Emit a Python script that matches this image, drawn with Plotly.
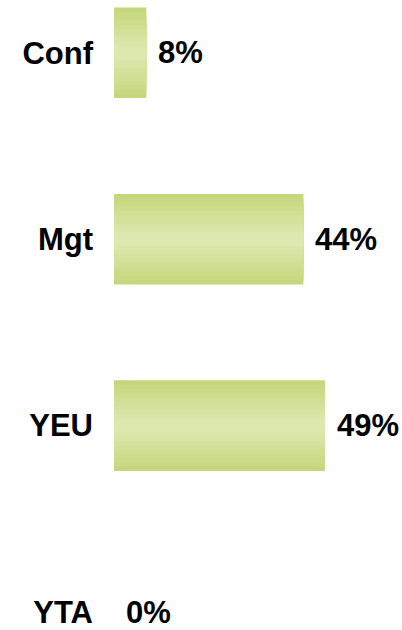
import plotly.graph_objects as go

categories = ["Conf", "Mgt", "YEU", "YTA"]
values = [7.5, 44, 49, 0]
value_labels = ["8%", "44%", "49%", "0%"]

FONT = "Liberation Sans, Arial, sans-serif"

# gradient layers (outer dark -> inner light)
edge = (0xC4, 0xD7, 0x7C)
center = (0xDD, 0xE8, 0xAF)
n_layers = 10
full_w = 0.486

fig = go.Figure()
for i in range(n_layers):
    t = i / (n_layers - 1)
    c = tuple(round(edge[k] + (center[k] - edge[k]) * t) for k in range(3))
    w = full_w * (1 - 0.85 * t)
    fig.add_trace(go.Bar(
        x=values, y=categories, orientation="h",
        width=w,
        marker=dict(color="rgb(%d,%d,%d)" % c, line=dict(width=0)),
        hoverinfo="skip", showlegend=False,
    ))

for cat, v, lab in zip(categories, values, value_labels):
    fig.add_annotation(
        x=v, y=cat, text=lab, showarrow=False,
        xanchor="left", yanchor="middle", xshift=10,
        font=dict(family=FONT, size=31, color="#000000", weight="bold"),
    )

fig.update_layout(
    width=402, height=630,
    margin=dict(l=114, r=0, t=0, b=0),
    barmode="overlay",
    plot_bgcolor="white", paper_bgcolor="white",
    xaxis=dict(range=[0, 66.9], visible=False, fixedrange=True),
    yaxis=dict(
        type="category", categoryorder="array", categoryarray=categories,
        range=[3.0856, -0.2834], showgrid=False, zeroline=False,
        showline=False, ticks="", ticklabelstandoff=20,
        tickfont=dict(family=FONT, size=31, color="#000000", weight="bold"),
    ),
)

fig.write_html(
    "out.html",
    config={"displayModeBar": False},
    post_script="document.body.style.margin='0';document.body.style.overflow='hidden';",
)
